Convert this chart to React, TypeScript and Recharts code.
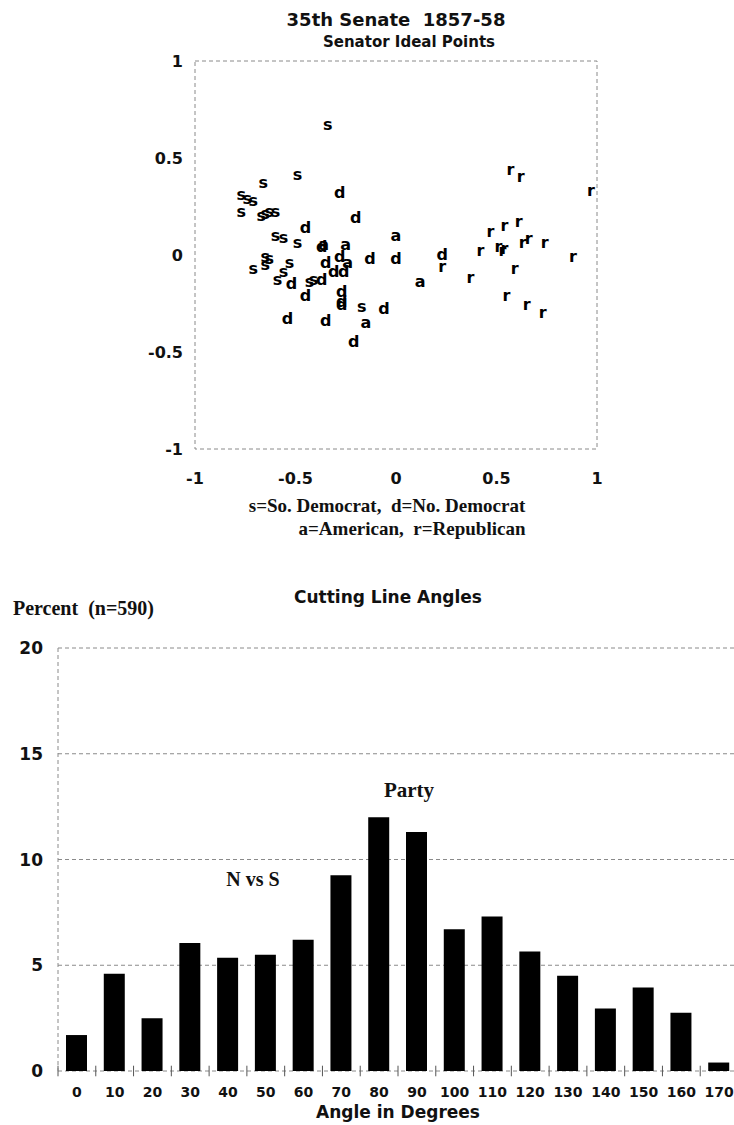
import React from "react";
import {
  ScatterChart,
  Scatter,
  BarChart,
  Bar,
  XAxis,
  YAxis,
  CartesianGrid,
  ReferenceArea,
  ReferenceLine,
} from "recharts";

const SANS = '"DejaVu Sans", Verdana, sans-serif';
const SERIF = '"Liberation Serif", "Times New Roman", serif';
const INK = "#111";
const DASH = "#8a8a8a";

// Senator ideal points (first, second dimension), one list per party
const southernDemocrats = [
  { x: -0.34, y: 0.67 }, { x: -0.49, y: 0.41 }, { x: -0.66, y: 0.37 },
  { x: -0.77, y: 0.31 }, { x: -0.74, y: 0.29 }, { x: -0.71, y: 0.28 },
  { x: -0.77, y: 0.22 }, { x: -0.67, y: 0.2 }, { x: -0.65, y: 0.21 },
  { x: -0.63, y: 0.22 }, { x: -0.6, y: 0.22 }, { x: -0.6, y: 0.1 },
  { x: -0.56, y: 0.09 }, { x: -0.49, y: 0.06 }, { x: -0.65, y: -0.01 },
  { x: -0.63, y: -0.02 }, { x: -0.71, y: -0.07 }, { x: -0.65, y: -0.05 },
  { x: -0.53, y: -0.04 }, { x: -0.56, y: -0.09 }, { x: -0.59, y: -0.13 },
  { x: -0.43, y: -0.14 }, { x: -0.41, y: -0.13 }, { x: -0.17, y: -0.27 },
];

const northernDemocrats = [
  { x: -0.28, y: 0.32 }, { x: -0.2, y: 0.19 }, { x: -0.45, y: 0.14 },
  { x: -0.37, y: 0.04 }, { x: -0.35, y: -0.04 }, { x: -0.28, y: -0.01 },
  { x: -0.13, y: -0.02 }, { x: 0.0, y: -0.02 }, { x: -0.31, y: -0.09 },
  { x: -0.26, y: -0.09 }, { x: -0.52, y: -0.15 }, { x: -0.37, y: -0.13 },
  { x: -0.45, y: -0.21 }, { x: -0.27, y: -0.19 }, { x: -0.27, y: -0.24 },
  { x: -0.27, y: -0.26 }, { x: -0.06, y: -0.28 }, { x: -0.54, y: -0.33 },
  { x: -0.35, y: -0.34 }, { x: -0.21, y: -0.45 }, { x: 0.23, y: 0.0 },
];

const americans = [
  { x: 0.0, y: 0.1 }, { x: -0.25, y: 0.05 }, { x: -0.24, y: -0.04 },
  { x: -0.15, y: -0.35 }, { x: 0.12, y: -0.14 }, { x: -0.36, y: 0.05 },
];

const republicans = [
  { x: 0.57, y: 0.44 }, { x: 0.62, y: 0.4 }, { x: 0.97, y: 0.33 },
  { x: 0.47, y: 0.12 }, { x: 0.54, y: 0.15 }, { x: 0.61, y: 0.17 },
  { x: 0.23, y: -0.06 }, { x: 0.42, y: 0.02 }, { x: 0.51, y: 0.04 },
  { x: 0.53, y: 0.02 }, { x: 0.54, y: 0.03 }, { x: 0.63, y: 0.06 },
  { x: 0.66, y: 0.08 }, { x: 0.74, y: 0.06 }, { x: 0.88, y: -0.01 },
  { x: 0.59, y: -0.07 }, { x: 0.37, y: -0.12 }, { x: 0.55, y: -0.21 },
  { x: 0.65, y: -0.26 }, { x: 0.73, y: -0.3 },
];

const idealTicks = [-1, -0.5, 0, 0.5, 1];

// Cutting line angle histogram
const angleBins = [0, 10, 20, 30, 40, 50, 60, 70, 80, 90, 100, 110, 120, 130, 140, 150, 160, 170];
const anglePercents = [1.7, 4.6, 2.5, 6.05, 5.35, 5.5, 6.2, 9.25, 12.0, 11.3, 6.7, 7.3, 5.65, 4.5, 2.95, 3.95, 2.75, 0.4];
const percentTicks = [0, 5, 10, 15, 20];
const binEdges = [-5, 5, 15, 25, 35, 45, 55, 65, 75, 85, 95, 105, 115, 125, 135, 145, 155, 165];

const parties = [
  { letter: "s", points: southernDemocrats },
  { letter: "d", points: northernDemocrats },
  { letter: "a", points: americans },
  { letter: "r", points: republicans },
];

const angleData = angleBins.map((angle, i) => ({ angle, percent: anglePercents[i] }));

const letterShape = (letter: string) => (props: any) => (
  <text
    x={props.cx}
    y={props.cy}
    dy={5}
    textAnchor="middle"
    fontFamily={SANS}
    fontWeight="bold"
    fontSize={16}
    fill="#000"
  >
    {letter}
  </text>
);

function Caption({ text, cx, cy, size, serif = false }: { text: string; cx: number; cy: number; size: number; serif?: boolean }) {
  return (
    <div
      style={{
        position: "absolute",
        left: cx - 250,
        width: 500,
        top: cy - size / 2 - 1,
        height: size,
        lineHeight: `${size}px`,
        textAlign: "center",
        whiteSpace: "pre",
        fontFamily: serif ? SERIF : SANS,
        fontWeight: "bold",
        fontSize: size,
        color: INK,
      }}
    >
      {text}
    </div>
  );
}

const sansTick = (size: number) => ({ fill: INK, fontSize: size, fontWeight: "bold", fontFamily: SANS });

export default function App() {
  return (
    <div style={{ position: "absolute", left: 0, top: 0, width: 734, height: 1125, overflow: "hidden", background: "#fff" }}>
      <Caption text="35th Senate  1857-58" cx={396} cy={21} size={18} />
      <Caption text="Senator Ideal Points" cx={409} cy={43} size={15} />

      <div style={{ position: "absolute", left: 0, top: 0 }}>
        <ScatterChart width={734} height={500} margin={{ top: 61, right: 137, bottom: 0, left: 155 }}>
          <XAxis
            type="number"
            dataKey="x"
            domain={[-1, 1]}
            ticks={idealTicks}
            axisLine={false}
            tickLine={false}
            tickMargin={18}
            height={51}
            tick={sansTick(16)}
          />
          <YAxis
            type="number"
            dataKey="y"
            domain={[-1, 1]}
            ticks={idealTicks}
            axisLine={false}
            tickLine={false}
            tickMargin={6}
            width={40}
            tick={sansTick(16)}
          />
          <ReferenceArea x1={-1} x2={1} y1={-1} y2={1} fill="none" stroke={DASH} strokeDasharray="4 3" />
          {parties.map((p) => (
            <Scatter key={p.letter} data={p.points} shape={letterShape(p.letter)} isAnimationActive={false} />
          ))}
        </ScatterChart>
      </div>

      <Caption text="s=So. Democrat,  d=No. Democrat" cx={387} cy={506} size={19} serif />
      <Caption text="a=American,  r=Republican" cx={412} cy={529} size={19} serif />

      <div
        style={{
          position: "absolute",
          left: 13,
          top: 598,
          lineHeight: "20px",
          fontFamily: SERIF,
          fontWeight: "bold",
          fontSize: 20,
          color: INK,
          whiteSpace: "pre",
        }}
      >
        Percent  (n=590)
      </div>
      <Caption text="Cutting Line Angles" cx={388} cy={598} size={17} />

      <div style={{ position: "absolute", left: 0, top: 620 }}>
        <BarChart width={738} height={505} data={angleData} margin={{ top: 28, right: 0, bottom: 0, left: 18 }}>
          <CartesianGrid vertical={false} stroke={DASH} strokeDasharray="4 3" />
          <XAxis
            type="number"
            dataKey="angle"
            domain={[-5, 175]}
            ticks={angleBins}
            interval={0}
            axisLine={false}
            tickLine={false}
            tickMargin={10}
            height={54}
            tick={sansTick(14)}
            label={{ value: "Angle in Degrees", position: "insideBottom", offset: 7, fill: INK, fontSize: 17, fontWeight: "bold", fontFamily: SANS }}
          />
          <YAxis
            type="number"
            domain={[0, 20]}
            ticks={percentTicks}
            axisLine={{ stroke: DASH, strokeDasharray: "4 3" }}
            tickLine={false}
            tickMargin={9}
            width={40}
            tick={sansTick(17)}
          />
          {binEdges.map((e) => (
            <ReferenceLine
              key={e}
              segment={[{ x: e, y: -0.25 }, { x: e, y: 0.25 }]}
              stroke="#555"
              ifOverflow="visible"
            />
          ))}
          <Bar dataKey="percent" fill="#000" barSize={21} isAnimationActive={false} />
        </BarChart>
      </div>

      <Caption text="Party" cx={409} cy={791} size={21} serif />
      <Caption text="N vs S" cx={253} cy={880} size={20} serif />
    </div>
  );
}
